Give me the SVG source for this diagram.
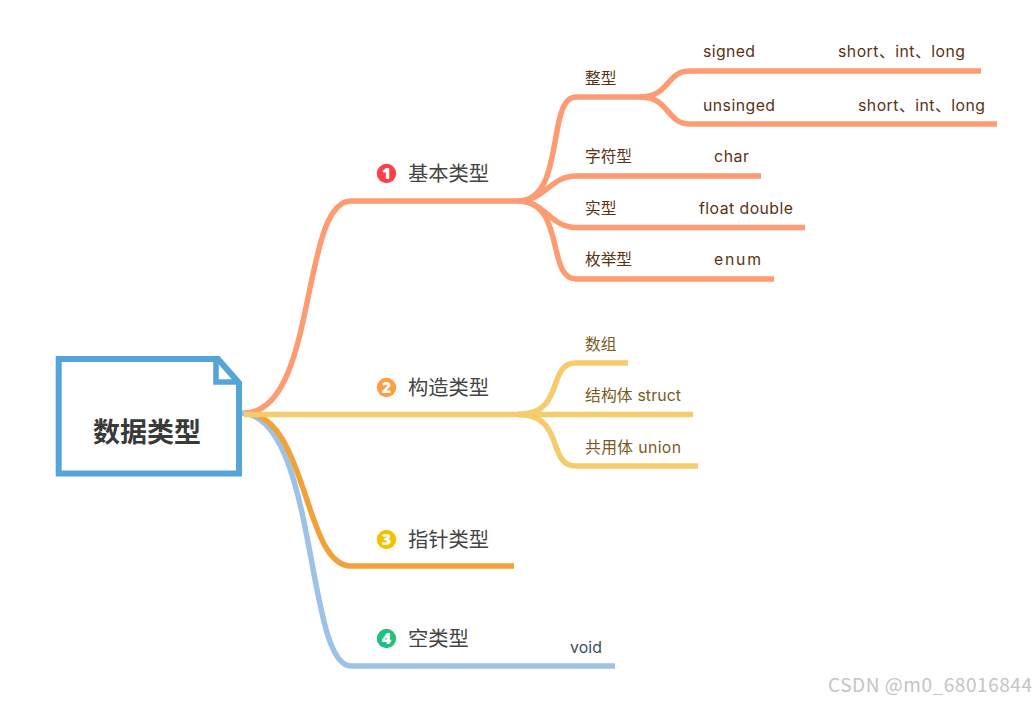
<svg xmlns="http://www.w3.org/2000/svg" width="1036" height="704" viewBox="0 0 1036 704">
<style>
text{font-family:"Noto Sans CJK SC","Noto Sans",sans-serif}
.c{fill:none;stroke-width:5.5;stroke-linejoin:round}
.o{stroke:#ff9b73}.y{stroke:#f6cb6b}.a{stroke:#f2a03a}.b{stroke:#9cc3e5}
.m{font-size:20.300px;fill:#444}
.s{font-size:15.700px;fill:#5b3214}
.e{font-family:Inter,"Noto Sans CJK SC",sans-serif;font-size:15.800px;fill:#5b3214}
.u{fill:#7a5a1e}
.n{font-family:"Open Sans",sans-serif;font-size:16px;font-weight:800;fill:#fff;text-anchor:middle}
</style>
<g id="connectors">
<path class="c b" d="M240 413C318 413 305 666 351 666H615"/>
<path class="c a" d="M244 413C308 413 303 566 351 566H514"/>
<path class="c o" d="M244 413C318 413 300 201 351 201H520"/>
<path class="c y" d="M244 414.500H520"/>
<path class="c o" d="M518 201C566 201 546 97 576 97H640C670 97 666 71 690 71H981"/>
<path class="c o" d="M640 97C670 97 666 124 690 124H997"/>
<path class="c o" d="M518 201C545 201 550 176 576 176H761"/>
<path class="c o" d="M518 201C545 201 550 227.500 576 227.500H805"/>
<path class="c o" d="M518 201C566 201 546 279 576 279H774"/>
<path class="c y" d="M518 414.500C566 414.500 546 363 576 363H628"/>
<path class="c y" d="M518 414.500H693"/>
<path class="c y" d="M518 414.500C566 414.500 546 466 576 466H698"/>
</g>
<g id="root">
<path d="M58.700 359H218L239 383V473.500H58.700Z" fill="#fff" stroke="#55a5d8" stroke-width="6"/>
<path d="M216 359V382H239" fill="none" stroke="#55a5d8" stroke-width="5.500"/>
<text x="147" y="442" text-anchor="middle" font-size="27" font-weight="700" fill="#3a3a3a">数据类型</text>
</g>
<g id="n1"><circle cx="386.500" cy="173.500" r="9.700" fill="#ff3f47"/><text class="n" x="386.500" y="179">1</text><text class="m" x="408" y="180.500">基本类型</text></g>
<g id="n2"><circle cx="386.500" cy="387.500" r="9.700" fill="#ff9d43"/><text class="n" x="386.500" y="393">2</text><text class="m" x="408" y="394.500">构造类型</text></g>
<g id="n3"><circle cx="386.500" cy="539.500" r="9.700" fill="#f2c200"/><text class="n" x="386.500" y="545">3</text><text class="m" x="408" y="546.500">指针类型</text></g>
<g id="n4"><circle cx="386.500" cy="638.500" r="9.700" fill="#20c07f"/><text class="n" x="386.500" y="644">4</text><text class="m" x="408" y="645.500">空类型</text></g>
<g id="zx"><text class="s" x="585" y="83.500">整型</text></g>
<g id="signed"><text class="e" x="703" y="57" textLength="52">signed</text></g>
<g id="signed-v"><text class="e" x="838" y="57" textLength="127">short、int、long</text></g>
<g id="unsinged"><text class="e" x="703" y="111" textLength="72">unsinged</text></g>
<g id="unsinged-v"><text class="e" x="858" y="111" textLength="127">short、int、long</text></g>
<g id="zf"><text class="s" x="585" y="161.500">字符型</text></g>
<g id="char"><text class="e" x="714" y="162" textLength="35">char</text></g>
<g id="sx"><text class="s" x="585" y="213.500">实型</text></g>
<g id="float"><text class="e" x="699" y="214" textLength="94">float double</text></g>
<g id="mj"><text class="s" x="585" y="264.500">枚举型</text></g>
<g id="enum"><text class="e" x="714" y="265" textLength="47">enum</text></g>
<g id="sz"><text class="s u" x="585" y="349.500">数组</text></g>
<g id="jg"><text class="e u" x="585" y="401" textLength="96">结构体 struct</text></g>
<g id="gy"><text class="e u" x="585" y="452.500" textLength="96">共用体 union</text></g>
<g id="void"><text class="e" x="570" y="653" textLength="32" style="fill:#35505f">void</text></g>
<text x="828" y="692" textLength="204" font-family="'Liberation Sans',sans-serif" font-size="19" fill="#c4c4c4">CSDN @m0_68016844</text>
</svg>
